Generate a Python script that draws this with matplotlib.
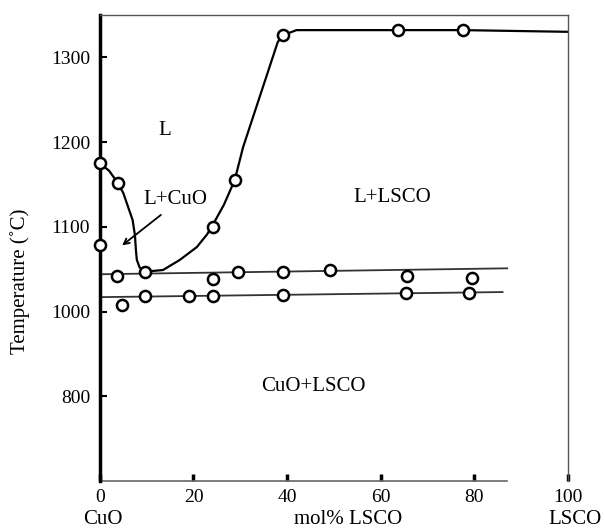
import numpy as np
import matplotlib
matplotlib.use("Agg")
import matplotlib.pyplot as plt

plt.rcParams['font.family'] = ['Liberation Serif', 'DejaVu Serif']

# liquidus, CuO side (mol% LSCO, T in C)
liq_cuo_x = [0.0, 2.0, 3.8, 5.0, 6.0, 7.0, 7.5, 7.7, 7.9, 8.5, 9.6]
liq_cuo_t = [1175, 1166, 1152, 1140, 1124, 1108, 1090, 1073, 1061, 1052, 1047]

# liquidus, LSCO side
liq_lsco_x = [9.6, 13.5, 17.1, 20.7, 22.9, 24.1, 26.5, 28.8, 30.6, 38.0, 39.1, 42.0, 63.7, 77.6, 100.0]
liq_lsco_t = [1047, 1049, 1061, 1076, 1091, 1102, 1126, 1155, 1194, 1318, 1326, 1332, 1332, 1332, 1330]

liq_pts_x = [0.0, 3.8, 24.1, 28.8, 39.1, 63.7, 77.6, 0.0]
liq_pts_t = [1175, 1152, 1100, 1155, 1326, 1332, 1332, 1079]

# upper horizontal (eutectic)
eut_x = [0.0, 87.0]
eut_t = [1044, 1051]
eut_pts_x = [3.6, 9.6, 24.1, 29.5, 39.1, 49.1, 65.6, 79.5]
eut_pts_t = [1042, 1047, 1038, 1047, 1047, 1049, 1042, 1040]

# lower horizontal
low_x = [0.0, 86.0]
low_t = [1017, 1023]
low_pts_x = [4.7, 9.6, 19.0, 24.1, 39.1, 65.4, 78.8]
low_pts_t = [1008, 1018, 1018, 1018, 1020, 1022, 1022]

x_ticks = [0, 20, 40, 60, 80, 100]
y_ticks = [800, 1000, 1100, 1200, 1300]


def fwd(y):
    y = np.asarray(y, dtype=float)
    return np.where(y > 1000, 1000 + 2 * (y - 1000), y)


def inv(y):
    y = np.asarray(y, dtype=float)
    return np.where(y > 1000, 1000 + (y - 1000) / 2, y)


fig = plt.figure(figsize=(6.05, 5.31), dpi=100)
ax = fig.add_axes([0.165, 0.094, 0.774, 0.878])
ax.set_yscale('function', functions=(fwd, inv))
ax.set_xlim(0, 100)
ax.set_ylim(600, 1350)

lw = 1.6
ax.plot(liq_cuo_x, liq_cuo_t, color='black', lw=lw)
ax.plot(liq_lsco_x, liq_lsco_t, color='black', lw=lw)
ax.plot(eut_x, eut_t, color='#333333', lw=1.3)
ax.plot(low_x, low_t, color='#333333', lw=1.3)

mk = dict(ls='none', marker='o', ms=8, mfc='white', mec='black', mew=1.8, clip_on=False, zorder=5)
ax.plot(liq_pts_x, liq_pts_t, **mk)
ax.plot(eut_pts_x, eut_pts_t, **mk)
ax.plot(low_pts_x, low_pts_t, **mk)

# frame
for s in ['top', 'right']:
    ax.spines[s].set_color('#555555')
    ax.spines[s].set_linewidth(1.0)
ax.spines['left'].set_color('black')
ax.spines['left'].set_linewidth(2.5)
ax.spines['bottom'].set_visible(False)
ax.plot([0, 87], [600, 600], color='#666666', lw=1.2, clip_on=False)

ax.set_xticks(x_ticks)
ax.set_yticks(y_ticks)
ax.tick_params(axis='both', direction='in', labelsize=14, color='black')
ax.tick_params(axis='y', length=5, width=1.5, pad=7)
ax.tick_params(axis='x', length=5, width=2.5, pad=6)

fs = 15
ax.text(13.9, 1214, 'L', fontsize=fs, ha='center', va='center')
ax.text(16.2, 1132, 'L+CuO', fontsize=fs, ha='center', va='center')
ax.text(62.4, 1135, 'L+LSCO', fontsize=fs, ha='center', va='center')
ax.text(45.7, 824, 'CuO+LSCO', fontsize=fs, ha='center', va='center')
ax.annotate('', xy=(4.3, 1076), xytext=(13.5, 1116),
            arrowprops=dict(arrowstyle='->', color='black', lw=1.3))

fig.text(20 / 605, 1 - 281 / 531, 'Temperature (˚C)', fontsize=fs, rotation=90,
         ha='center', va='center')
fig.text(103 / 605, 1 - 520 / 531, 'CuO', fontsize=fs, ha='center', va='center')
fig.text(348 / 605, 1 - 520 / 531, 'mol% LSCO', fontsize=fs, ha='center', va='center')
fig.text(575 / 605, 1 - 520 / 531, 'LSCO', fontsize=fs, ha='center', va='center')

fig.savefig('out.png', dpi=100)
